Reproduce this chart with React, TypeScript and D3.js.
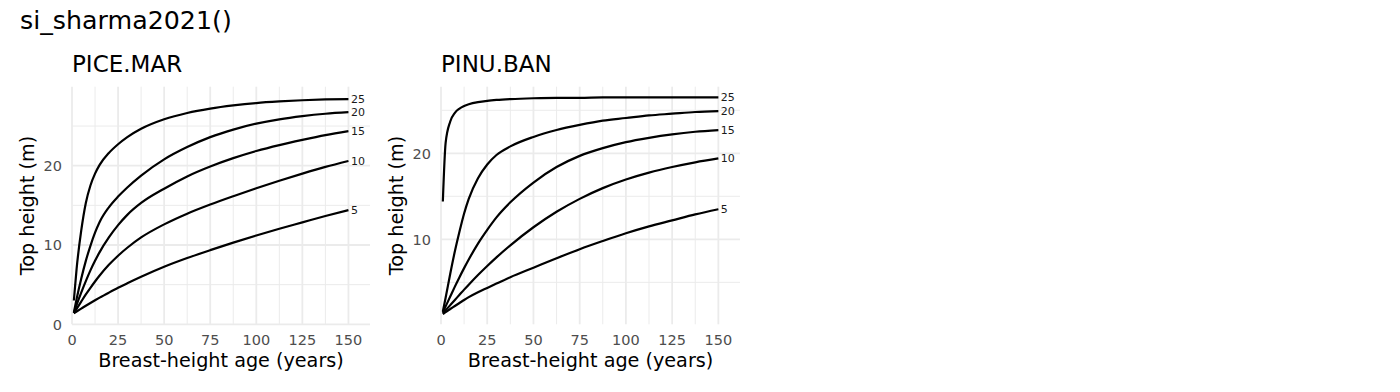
import React from 'react';
import * as d3 from 'd3';

const TITLE = 'si_sharma2021()';
const X_LABEL = 'Breast-height age (years)';
const Y_LABEL = 'Top height (m)';
const SPECIES = ['PICE.MAR', 'PINU.BAN'];
const SITE_INDICES = [5, 10, 15, 20, 25];
const AGES = [1, 2.5, 5, 7.5, 10, 12.5, 15, 20, 25, 30, 37.5, 50, 62.5, 75, 87.5, 100, 112.5, 125, 137.5, 150];
const X_TICKS = [0, 25, 50, 75, 100, 125, 150];

const PICE_SI5 = [1.4, 1.62, 1.98, 2.34, 2.69, 3.03, 3.36, 3.99, 4.6, 5.17, 5.99, 7.25, 8.35, 9.35, 10.3, 11.2, 12.05, 12.85, 13.65, 14.4];
const PICE_SI10 = [1.4, 1.95, 2.86, 3.76, 4.6, 5.4, 6.15, 7.5, 8.65, 9.65, 10.95, 12.6, 13.95, 15.1, 16.15, 17.15, 18.1, 19.0, 19.85, 20.6];
const PICE_SI15 = [1.45, 2.45, 4.0, 5.45, 6.8, 8.0, 9.1, 10.95, 12.5, 13.8, 15.3, 17.1, 18.65, 19.9, 20.95, 21.85, 22.6, 23.25, 23.85, 24.35];
const PICE_SI20 = [1.5, 3.2, 5.75, 8.0, 9.9, 11.55, 12.9, 14.75, 16.1, 17.25, 18.75, 20.8, 22.35, 23.6, 24.55, 25.3, 25.85, 26.25, 26.55, 26.75];
const PICE_SI25 = [3.0, 7.0, 11.8, 15.3, 17.5, 19.0, 20.1, 21.6, 22.7, 23.6, 24.65, 25.85, 26.65, 27.2, 27.6, 27.9, 28.1, 28.25, 28.35, 28.4];

const PINU_SI5 = [1.3, 1.55, 1.9, 2.25, 2.6, 2.95, 3.28, 3.85, 4.35, 4.85, 5.6, 6.7, 7.8, 8.85, 9.8, 10.7, 11.5, 12.2, 12.9, 13.5];
const PINU_SI10 = [1.4, 1.75, 2.35, 2.95, 3.55, 4.15, 4.73, 5.85, 6.9, 7.9, 9.3, 11.4, 13.2, 14.7, 15.95, 16.95, 17.75, 18.4, 18.95, 19.4];
const PINU_SI15 = [1.5, 2.2, 3.35, 4.5, 5.6, 6.65, 7.65, 9.5, 11.1, 12.55, 14.3, 16.6, 18.4, 19.7, 20.6, 21.3, 21.8, 22.2, 22.5, 22.7];
const PINU_SI20 = [1.6, 3.2, 6.0, 8.6, 10.9, 13.0, 14.7, 17.1, 18.7, 19.8, 20.8, 21.9, 22.7, 23.3, 23.8, 24.1, 24.4, 24.6, 24.8, 24.9];
const PINU_SI25 = [14.4, 21.2, 23.7, 24.7, 25.2, 25.5, 25.7, 25.95, 26.1, 26.2, 26.3, 26.4, 26.45, 26.45, 26.5, 26.5, 26.5, 26.5, 26.5, 26.5];

const PICE_SERIES = [PICE_SI5, PICE_SI10, PICE_SI15, PICE_SI20, PICE_SI25];
const PINU_SERIES = [PINU_SI5, PINU_SI10, PINU_SI15, PINU_SI20, PINU_SI25];
const PICE_Y_TICKS = [0, 10, 20];
const PINU_Y_TICKS = [10, 20];

const FONT = '"DejaVu Sans", Verdana, sans-serif';
const GRID = '#EBEBEB';

type PanelProps = {
  title: string;
  series: number[][];
  yDomain: [number, number];
  yTicks: number[];
  left: number;
  right: number;
};

const TOP = 86.7;
const BOTTOM = 324.3;

function Panel({ title, series, yDomain, yTicks, left, right }: PanelProps) {
  const x = d3.scaleLinear().domain([0, 161.7]).range([left, right]);
  const y = d3.scaleLinear().domain(yDomain).range([BOTTOM, TOP]);
  const line = d3
    .line<[number, number]>()
    .x((d) => x(d[0]))
    .y((d) => y(d[1]))
    .curve(d3.curveMonotoneX);

  const xMinor = X_TICKS.map((t) => t + 12.5).filter((t) => x(t) <= right);
  const yMinorAll = d3.range(Math.ceil(yDomain[0] / 5) * 5, yDomain[1], 5);
  const yMinor = yMinorAll.filter((v) => !yTicks.includes(v));

  return (
    <g>
      {xMinor.map((t) => (
        <line key={'xm' + t} x1={x(t)} x2={x(t)} y1={TOP} y2={BOTTOM} stroke={GRID} strokeWidth={1} />
      ))}
      {yMinor.map((t) => (
        <line key={'ym' + t} x1={left} x2={right} y1={y(t)} y2={y(t)} stroke={GRID} strokeWidth={1} />
      ))}
      {X_TICKS.map((t) => (
        <line key={'xM' + t} x1={x(t)} x2={x(t)} y1={TOP} y2={BOTTOM} stroke={GRID} strokeWidth={1.8} />
      ))}
      {yTicks.map((t) => (
        <line key={'yM' + t} x1={left} x2={right} y1={y(t)} y2={y(t)} stroke={GRID} strokeWidth={1.8} />
      ))}
      {series.map((vals, i) => {
        const pts = AGES.map((a, j) => [a, vals[j]] as [number, number]);
        const last = pts[pts.length - 1];
        return (
          <g key={'s' + i}>
            <path d={line(pts) || ''} fill="none" stroke="#000" strokeWidth={2.2} strokeLinejoin="round" />
            <text x={x(last[0]) + 2.5} y={y(last[1])} dy="0.36em" fontSize={11} fill="#1a1a1a" fontFamily={FONT}>
              {SITE_INDICES[i]}
            </text>
          </g>
        );
      })}
      {X_TICKS.map((t) => (
        <text key={'xl' + t} x={x(t)} y={345} textAnchor="middle" fontSize={14.5} fill="#4D4D4D" fontFamily={FONT}>
          {t}
        </text>
      ))}
      {yTicks.map((t) => (
        <text key={'yl' + t} x={left - 10} y={y(t)} dy="0.36em" textAnchor="end" fontSize={14.5} fill="#4D4D4D" fontFamily={FONT}>
          {t}
        </text>
      ))}
      <text x={(left + right) / 2} y={366.5} textAnchor="middle" fontSize={19.2} fill="#000" fontFamily={FONT}>
        {X_LABEL}
      </text>
      <text
        transform={`translate(${left - 38.5},${(TOP + BOTTOM) / 2}) rotate(-90)`}
        textAnchor="middle"
        fontSize={19.2}
        fill="#000"
        fontFamily={FONT}
      >
        {Y_LABEL}
      </text>
      <text x={left} y={71.7} fontSize={23} fill="#000" fontFamily={FONT}>
        {title}
      </text>
    </g>
  );
}

export default function App() {
  return (
    <svg
      width={1400}
      height={392}
      style={{ position: 'absolute', left: 0, top: 0, background: '#fff' }}
    >
      <rect x={0} y={0} width={1400} height={392} fill="#fff" />
      <text x={20} y={28.5} fontSize={25.3} fill="#000" fontFamily={FONT}>
        {TITLE}
      </text>
      <Panel title={SPECIES[0]} series={PICE_SERIES} yDomain={[0, 29.96]} yTicks={PICE_Y_TICKS} left={72} right={370} />
      <Panel title={SPECIES[1]} series={PINU_SERIES} yDomain={[0.12, 27.74]} yTicks={PINU_Y_TICKS} left={441} right={740} />
    </svg>
  );
}
